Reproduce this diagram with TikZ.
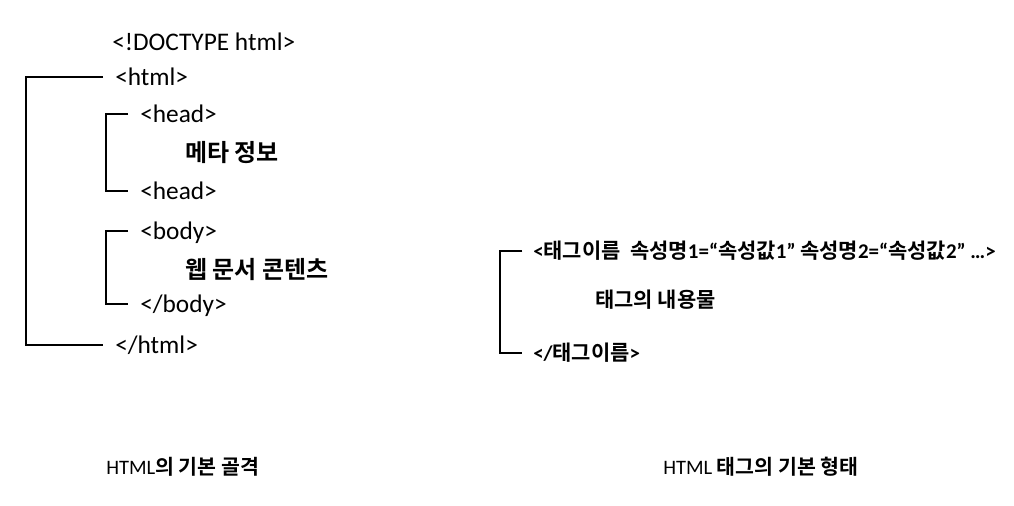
\documentclass[tikz,border=0pt]{standalone}
\usepackage{fontspec}
\setmainfont{Carlito}
\newfontfamily\kr{Noto Sans CJK KR}[BoldFont={Noto Sans CJK KR Bold}]
\usetikzlibrary{positioning}

\begin{document}
\begin{tikzpicture}[
  x=0.75pt, y=-0.75pt,
  tag/.style={anchor=west, inner sep=0pt, text height=12.2pt, text depth=0pt,
    font=\fontsize{19}{22}\selectfont},
  note/.style={anchor=west, inner sep=0pt, text height=13pt, text depth=0pt,
    font=\kr\bfseries\fontsize{18}{22}\selectfont},
  attr/.style={anchor=west, inner sep=0pt, text height=10.6pt, text depth=0pt,
    font=\bfseries\fontsize{15.7}{18}\selectfont},
  attrnote/.style={attr, font=\kr\bfseries\fontsize{15.7}{18}\selectfont},
  caption/.style={anchor=west, inner sep=0pt, text height=10.4pt, text depth=0pt,
    font=\fontsize{15.4}{18}\selectfont},
  bracket/.style={line width=1.4pt},
]
  \useasboundingbox (0,0) rectangle (1014,506);

  % basic skeleton of an HTML document
  \node[tag] (doctype) at (112,42) {<!DOCTYPE html>};
  \node[tag] (html) at (115,77) {<html>};
  \node[tag] (headopen) at (140,114) {<head>};
  \node[note] (meta) at (185,153) {메타 정보};
  \node[tag] (headclose) at (140,191) {<head>};
  \node[tag] (bodyopen) at (140,231) {<body>};
  \node[note] (content) at (185,270) {웹 문서 콘텐츠};
  \node[tag] (bodyclose) at (140,304) {</body>};
  \node[tag] (htmlclose) at (115,345) {</html>};

  \draw[bracket] ([xshift=-9pt]html.west) -- ++(-77,0)
    |- ([xshift=-9pt]htmlclose.west);
  \draw[bracket] ([xshift=-9pt]headopen.west) -- ++(-22,0)
    |- ([xshift=-9pt]headclose.west);
  \draw[bracket] ([xshift=-9pt]bodyopen.west) -- ++(-22,0)
    |- ([xshift=-9pt]bodyclose.west);

  % general form of a tag
  \node[attr] (tagopen) at (533,251) {<{\kr 태그이름}\ \ {\kr 속성명}1=“{\kr 속성값}1” {\kr 속성명}2=“{\kr 속성값}2” …>};
  \node[attrnote] (tagbody) at (595,300) {태그의 내용물};
  \node[attr] (tagclose) at (533,353) {</{\kr 태그이름}>};

  \draw[bracket] ([xshift=-8pt]tagopen.west) -- ++(-22,0)
    |- ([xshift=-8pt]tagclose.west);

  % captions
  \node[caption] (capskel) at (106,468) {HTML{\kr\bfseries 의 기본 골격}};
  \node[caption] (capform) at (663,468) {HTML {\kr\bfseries 태그의 기본 형태}};
\end{tikzpicture}
\end{document}
